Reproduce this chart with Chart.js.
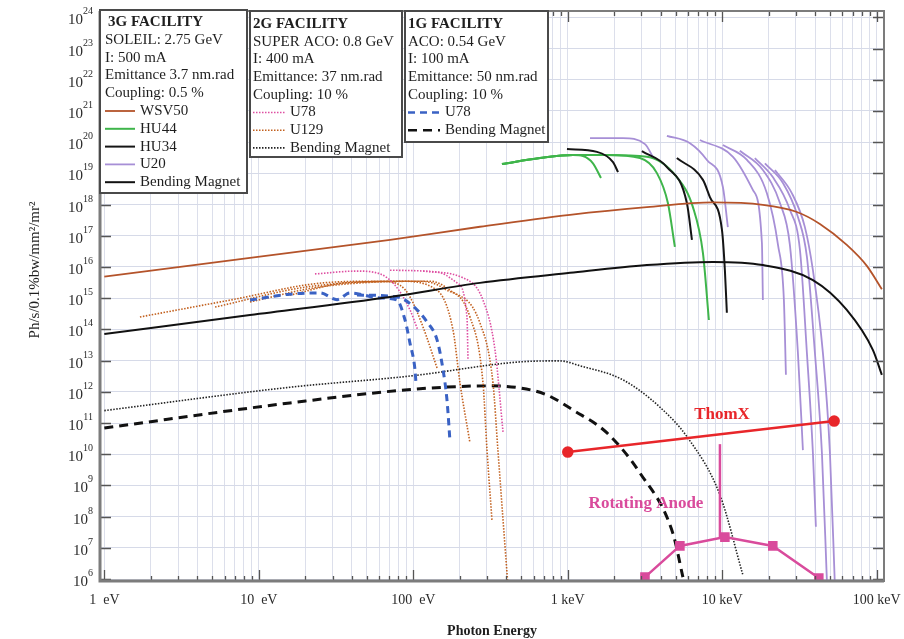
<!DOCTYPE html>
<html><head><meta charset="utf-8">
<script src="https://cdn.jsdelivr.net/npm/chart.js@4.4.1/dist/chart.umd.min.js"></script>
<style>html,body{margin:0;padding:0;background:#fff;}#wrap{width:904px;height:639px;}</style>
</head><body><div id="wrap"><canvas id="c" width="904" height="639"></canvas></div>
<script>
// ---------- axis ticks ----------
const xTickValues = [1, 10, 100, 1000, 10000, 100000];
const xTickText = ['1  eV', '10  eV', '100  eV', '1 keV', '10 keV', '100 keV'];
const yTickExps = [6,7,8,9,10,11,12,13,14,15,16,17,18,19,20,21,22,23,24];

// ---------- 3G SOLEIL (photon energy in eV, brilliance) ----------
const wsv50E = [1, 8.77, 70.7, 270, 1033, 3253, 8697, 18320, 30410, 42870, 63990, 86500, 107900];
const wsv50F = [4.9e15, 1.95e16, 7.4e16, 1.95e17, 4.7e17, 8.3e17, 1.17e18, 9.8e17, 5.8e17, 2.4e17, 5.1e16, 1.07e16, 1.95e15];

const hu44E = [
  [375, 661, 1081, 1254, 1456, 1640],
  [375, 661, 1081, 1795, 2931, 3777, 4447, 4935],
  [375, 661, 1081, 1795, 3253, 5081, 6459, 7499, 8193]
];
const hu44F = [
  [2.0e19, 3.1e19, 3.9e19, 3.6e19, 2.1e19, 7.1e18],
  [2.0e19, 3.1e19, 3.9e19, 3.9e19, 3.1e19, 1.02e19, 1.12e18, 4.4e16],
  [2.0e19, 3.1e19, 3.9e19, 3.9e19, 3.4e19, 7.6e18, 8.3e17, 2.8e16, 2.0e14]
];

const hu34E = [
  [988, 1545, 1963, 2114],
  [3018, 4382, 5907, 6365],
  [5081, 7499, 8318, 9955, 10400, 10710]
];
const hu34F = [
  [6.0e19, 4.9e19, 2.3e19, 1.1e19],
  [5.2e19, 1.6e19, 1.1e18, 7.4e16],
  [3.1e19, 6.2e18, 1.74e18, 1.55e17, 7.9e15, 3.4e14]
];

const u20E = [
  [1393, 2277, 3160, 3557],
  [4382, 6180, 7957, 10100, 10870],
  [7166, 11730, 15780, 18060, 18320],
  [10090, 14450, 19450, 22950, 25060, 25830],
  [13000, 18320, 23620, 27400, 30890, 33270],
  [16250, 21240, 27400, 31840, 35320, 38620, 40370],
  [18880, 24710, 30890, 35320, 39800, 44170, 47560],
  [21930, 28250, 34270, 38620, 44840, 49770, 53600]
];
const u20F = [
  [1.35e20, 1.35e20, 8.7e19, 3.4e19],
  [1.6e20, 9.3e19, 2.7e19, 3.6e18, 1.9e17],
  [1.17e20, 3.4e19, 2.95e18, 5.9e16, 8.7e14],
  [8.1e19, 2.7e19, 2.3e18, 5.1e16, 8.7e14, 3.5e12],
  [5.3e19, 1.29e19, 1.12e18, 5.1e16, 1.74e13, 1.35e10],
  [3.1e19, 7.6e18, 6.8e17, 3.5e16, 1.74e13, 1.1e10, 4.7e7],
  [2.1e19, 4.9e18, 4.0e17, 2.1e16, 1.74e13, 1.1e10, 9e5],
  [1.29e19, 2.3e18, 1.9e17, 7.9e15, 1.74e13, 1.1e10, 6e5]
];

const bm3E = [1, 8.77, 70.7, 270, 1033, 3253, 8697, 18320, 38620, 63990, 94350, 107900];
const bm3F = [7.1e13, 2.9e14, 1.1e15, 3.1e15, 6.5e15, 1.15e16, 1.45e16, 1.15e16, 3.8e15, 4.2e14, 2.2e13, 3.5e12];

// ---------- 2G SUPER ACO ----------
const u78sE = [
  [23.1, 43.2, 60.9, 76.2, 95.2, 107],
  [70.7, 142.5, 192, 222.6, 226],
  [115.6, 210, 282.6, 338, 381]
];
const u78sF = [
  [6.0e15, 7.4e15, 6.0e15, 2.6e15, 4.2e14, 9.5e13],
  [7.9e15, 6.9e15, 3.1e15, 2.5e14, 1.05e13],
  [7.4e15, 4.5e15, 8.7e14, 2.2e13, 5.1e10]
];

const u129E = [
  [1.70, 6.53, 26.1, 60.9, 82, 95.2, 115.6, 142.5],
  [5.21, 20.5, 82, 142.5, 180.8, 200.6, 232.8],
  [8.77, 24.9, 110.5, 155.9, 232.8, 282.6, 300, 323],
  [15.9, 38.9, 128.3, 172.9, 270.2, 328, 353, 381, 410]
];
const u129F = [
  [2.5e14, 8.7e14, 3.1e15, 3.5e15, 2.6e15, 1.1e15, 1.2e14, 5.8e12],
  [5.2e14, 2.3e15, 3.5e15, 1.8e15, 9.5e13, 1.9e12, 2.3e10],
  [7.6e14, 2.3e15, 3.5e15, 2.1e15, 2.5e14, 1.9e12, 1.35e10, 7.8e7],
  [1.26e15, 3.2e15, 3.5e15, 1.8e15, 1.6e14, 1.9e12, 1.35e10, 7.8e7, 6e5]
];

const bm2E = [1, 15.9, 95.2, 491, 891, 1202, 2280, 3953, 5995, 9662, 13600];
const bm2F = [2.5e11, 1.4e12, 3.2e12, 9.1e12, 9.8e12, 6.8e12, 2.4e12, 3.2e11, 3.3e10, 4.9e8, 1.35e6];

// ---------- 1G ACO ----------
const u78aE = [
  [8.77, 15.9, 24.9, 32.1, 38.9, 60.9, 78.4, 88.4, 95.2, 102.6, 104],
  [43.2, 78.4, 102.6, 122.7, 142.5, 155.9, 165.2, 172.9]
];
const u78aF = [
  [8.7e14, 1.35e15, 1.48e15, 9e14, 1.48e15, 1.02e15, 8.7e14, 2.0e14, 3.6e13, 5.0e12, 2.0e12],
  [1.26e15, 1.1e15, 4.9e14, 1.74e14, 4.6e13, 5.0e12, 5.5e11, 2.5e10]
];

const bm1E = [1, 15.9, 105.6, 313.6, 491, 734, 1081, 1795, 2931, 4791, 5563];
const bm1F = [6.9e10, 4.4e11, 1.23e12, 1.55e12, 1.33e12, 7.9e11, 2.6e11, 4.8e10, 2.5e9, 2.9e7, 1.15e6];

// ---------- ThomX and rotating anode ----------
const thomxE = [1000, 53000];
const thomxF = [1.17e10, 1.15e11];
const anodeE = [3160, 5318, 10400, 21240, 42170];
const anodeF = [1.15e6, 1.15e7, 2.2e7, 1.15e7, 1.07e6];
const anodeLineE = [9660, 9660];
const anodeLineF = [2.0e7, 2.1e10];

// ---------- styles ----------
const ST = {
  wsv50: {color:'#b4532a', width:1.8, dash:[]},
  hu44:  {color:'#3fb54b', width:2, dash:[]},
  hu34:  {color:'#151515', width:2, dash:[]},
  u20:   {color:'#a78fd6', width:1.8, dash:[]},
  bm3:   {color:'#111111', width:2, dash:[]},
  u78s:  {color:'#de4fa2', width:1.6, dash:[1.5,1.5]},
  u129:  {color:'#c2601e', width:1.6, dash:[1.5,1.5]},
  bm2:   {color:'#222222', width:1.6, dash:[1.5,1.5]},
  u78a:  {color:'#3a62c4', width:3, dash:[7,5]},
  bm1:   {color:'#111111', width:3, dash:[9,6]},
  thomx: {color:'#e8262a', width:2.5, dash:[]},
  anode: {color:'#d94b9c', width:2.5, dash:[]}
};

function mk(E, F, st, extra) {
  return Object.assign({
    data: E.map((e, i) => ({x: e, y: F[i]})),
    showLine: true, fill: false,
    borderColor: st.color, backgroundColor: st.color,
    borderWidth: st.width, borderDash: st.dash, borderCapStyle: 'butt',
    pointRadius: 0, pointHoverRadius: 0,
    cubicInterpolationMode: 'monotone'
  }, extra || {});
}

const datasets = [];
datasets.push(mk(thomxE, thomxF, ST.thomx, {pointRadius:4.5, pointStyle:'circle', cubicInterpolationMode:'default', tension:0}));
datasets.push(mk(anodeE, anodeF, ST.anode, {pointRadius:5, pointStyle:'rect', cubicInterpolationMode:'default', tension:0}));
datasets.push(mk(anodeLineE, anodeLineF, ST.anode, {cubicInterpolationMode:'default', tension:0}));
datasets.push(mk(wsv50E, wsv50F, ST.wsv50));
datasets.push(mk(bm3E, bm3F, ST.bm3));
hu34E.forEach((E, i) => datasets.push(mk(E, hu34F[i], ST.hu34)));
hu44E.forEach((E, i) => datasets.push(mk(E, hu44F[i], ST.hu44)));
u20E.forEach((E, i) => datasets.push(mk(E, u20F[i], ST.u20)));
u78aE.forEach((E, i) => datasets.push(mk(E, u78aF[i], ST.u78a)));
u78sE.forEach((E, i) => datasets.push(mk(E, u78sF[i], ST.u78s)));
u129E.forEach((E, i) => datasets.push(mk(E, u129F[i], ST.u129)));
datasets.push(mk(bm2E, bm2F, ST.bm2));
datasets.push(mk(bm1E, bm1F, ST.bm1));

// all x tick positions (1..9 per decade)
const xAllTicks = [];
for (let d = 0; d <= 5; d++) for (let m = 1; m <= 9; m++) {
  const v = Number((m * Math.pow(10, d)).toPrecision(6));
  if (v <= 111000) xAllTicks.push(v);
}
const isDecade = v => Math.abs(Math.log10(v) - Math.round(Math.log10(v))) < 1e-6;

const SERIF = '"Liberation Serif", "Times New Roman", serif';

const boxes = [
  {x:100, y:10, w:147, h:183, y0:22, step:17.8, tx:105, sx0:105, sx1:135, stx:140, rows:[
    {text:'3G FACILITY', bold:true, dx:3}, {text:'SOLEIL: 2.75 GeV'}, {text:'I: 500 mA'},
    {text:'Emittance 3.7 nm.rad'}, {text:'Coupling: 0.5 %'},
    {text:'WSV50', st:ST.wsv50}, {text:'HU44', st:ST.hu44}, {text:'HU34', st:ST.hu34},
    {text:'U20', st:ST.u20}, {text:'Bending Magnet', st:ST.bm3}]},
  {x:250, y:11, w:152, h:146, y0:24, step:17.7, tx:253, sx0:253, sx1:285, stx:290, rows:[
    {text:'2G FACILITY', bold:true}, {text:'SUPER ACO: 0.8 GeV'}, {text:'I: 400 mA'},
    {text:'Emittance: 37 nm.rad'}, {text:'Coupling: 10 %'},
    {text:'U78', st:ST.u78s}, {text:'U129', st:ST.u129}, {text:'Bending Magnet', st:ST.bm2}]},
  {x:405, y:11, w:143, h:131, y0:24, step:17.7, tx:408, sx0:408, sx1:440, stx:445, rows:[
    {text:'1G FACILITY', bold:true}, {text:'ACO: 0.54 GeV'}, {text:'I: 100 mA'},
    {text:'Emittance: 50 nm.rad'}, {text:'Coupling: 10 %'},
    {text:'U78', st:ST.u78a}, {text:'Bending Magnet', st:ST.bm1}]}
];

const decor = {
  id: 'decor',
  afterDatasetsDraw(chart) {
    const {ctx, chartArea: a, scales: {x, y}} = chart;
    ctx.save();
    // inward ticks
    ctx.strokeStyle = '#555'; ctx.lineWidth = 1.3; ctx.setLineDash([]);
    xAllTicks.forEach(v => {
      const px = Math.round(x.getPixelForValue(v)) + 0.5;
      const L = isDecade(v) ? 11 : 5;
      ctx.beginPath();
      ctx.moveTo(px, a.bottom); ctx.lineTo(px, a.bottom - L);
      ctx.moveTo(px, a.top); ctx.lineTo(px, a.top + L);
      ctx.stroke();
    });
    // y tick labels (10 with superscript exponent) and inward ticks
    ctx.fillStyle = '#2a2a2a'; ctx.textBaseline = 'alphabetic';
    yTickExps.forEach(e => {
      const py = Math.round(y.getPixelForValue(Math.pow(10, e))) + 0.5;
      ctx.beginPath();
      ctx.moveTo(a.left, py); ctx.lineTo(a.left + 11, py);
      ctx.moveTo(a.right, py); ctx.lineTo(a.right - 11, py);
      ctx.stroke();
      const ex = String(e);
      ctx.font = '10px ' + SERIF;
      const we = ctx.measureText(ex).width;
      ctx.textAlign = 'right';
      ctx.fillText(ex, 93, py - 4);
      ctx.font = '15px ' + SERIF;
      ctx.fillText('10', 93 - we, py + 6);
    });
    // frame
    ctx.strokeStyle = '#7c7c7c'; ctx.lineWidth = 2;
    ctx.strokeRect(a.left, a.top, a.right - a.left, a.bottom - a.top);
    ctx.lineWidth = 3;
    ctx.beginPath(); ctx.moveTo(a.left, a.top); ctx.lineTo(a.left, a.bottom); ctx.lineTo(a.right, a.bottom); ctx.stroke();

    // annotations
    ctx.textAlign = 'center'; ctx.textBaseline = 'middle';
    ctx.font = 'bold 17px ' + SERIF;
    ctx.fillStyle = ST.thomx.color; ctx.fillText('ThomX', 722, 415);
    ctx.fillStyle = ST.anode.color; ctx.fillText('Rotating Anode', 646, 504);

    // legend boxes
    boxes.forEach(b => {
      ctx.fillStyle = '#fff'; ctx.fillRect(b.x, b.y, b.w, b.h);
      ctx.strokeStyle = '#4a4a4a'; ctx.lineWidth = 2; ctx.setLineDash([]);
      ctx.strokeRect(b.x, b.y, b.w, b.h);
      ctx.textAlign = 'left'; ctx.textBaseline = 'middle'; ctx.fillStyle = '#1e1e1e';
      b.rows.forEach((r, i) => {
        const yy = b.y0 + i * b.step;
        ctx.font = (r.bold ? 'bold ' : '') + '15px ' + SERIF;
        if (r.st) {
          ctx.save();
          ctx.strokeStyle = r.st.color; ctx.lineWidth = Math.min(r.st.width, 2.6); ctx.setLineDash(r.st.dash);
          ctx.beginPath(); ctx.moveTo(b.sx0, yy); ctx.lineTo(b.sx1, yy); ctx.stroke();
          ctx.restore();
          ctx.fillText(r.text, b.stx, yy);
        } else {
          ctx.fillText(r.text, b.tx + (r.dx || 0), yy);
        }
      });
    });

    // axis titles
    ctx.fillStyle = '#1e1e1e'; ctx.textAlign = 'center'; ctx.textBaseline = 'middle';
    ctx.font = 'bold 14px ' + SERIF;
    ctx.fillText('Photon Energy', 492, 631);
    ctx.save();
    ctx.translate(35, 270); ctx.rotate(-Math.PI / 2);
    ctx.font = '15px ' + SERIF;
    ctx.fillText('Ph/s/0.1%bw/mm²/mr²', 0, 0);
    ctx.restore();
    ctx.restore();
  }
};

new Chart(document.getElementById('c').getContext('2d'), {
  type: 'scatter',
  data: {datasets},
  options: {
    responsive: false, animation: false, devicePixelRatio: 1,
    layout: {padding: {left: 0, right: 20, top: 11, bottom: 0}},
    plugins: {legend: {display: false}, tooltip: {enabled: false}},
    scales: {
      x: {
        type: 'logarithmic', min: Math.pow(10, -0.028), max: Math.pow(10, 5.047),
        afterBuildTicks(s) { s.ticks = xAllTicks.map(v => ({value: v})); },
        afterFit(s) { s.height = 58; s.paddingLeft = 0; s.paddingRight = 0; },
        ticks: {
          autoSkip: false, maxRotation: 0, minRotation: 0, padding: 11, color: '#2a2a2a',
          font: {family: SERIF, size: 14},
          callback(v, i, t) { const val = t[i].value; const k = xTickValues.findIndex(q => Math.abs(q - val) / q < 1e-6); return k >= 0 ? xTickText[k] : ''; }
        },
        grid: {color: '#dcdfeb', lineWidth: 1, drawTicks: false},
        border: {display: false}
      },
      y: {
        type: 'logarithmic', min: Math.pow(10, 5.936), max: Math.pow(10, 24.205),
        afterBuildTicks(s) { s.ticks = yTickExps.map(e => ({value: Math.pow(10, e)})); },
        afterFit(s) { s.width = 100; s.paddingTop = 0; s.paddingBottom = 0; },
        ticks: {display: false},
        grid: {color: '#d6dae8', lineWidth: 1, drawTicks: false},
        border: {display: false}
      }
    }
  },
  plugins: [decor]
});
</script></body></html>
